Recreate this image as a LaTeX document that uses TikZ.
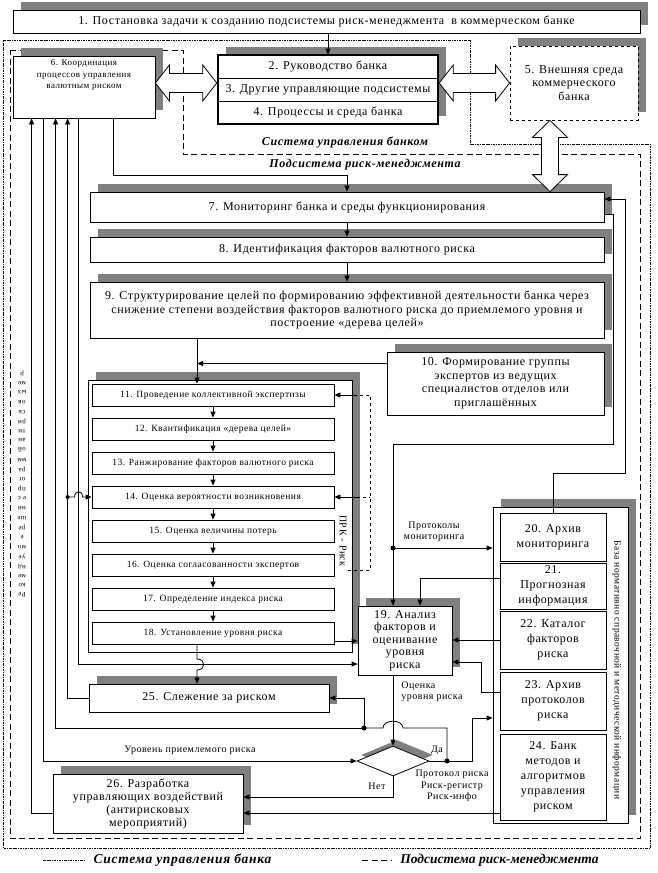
\documentclass[tikz,border=0pt]{standalone}
\usepackage{fontspec}
\setmainfont{Liberation Serif}[LetterSpace=5]
\usetikzlibrary{arrows.meta,calc,shadows,shapes.geometric,positioning}

\definecolor{shadegray}{gray}{0.5}
\newcommand\fmain{\fontsize{12}{13.5}\selectfont}
\newcommand\fcell{\fontsize{12}{15}\selectfont}
\newcommand\fsmall{\fontsize{9.5}{11}\selectfont}
\newcommand\fsix{\fontsize{9}{11.5}\selectfont}
\newcommand\flabel{\fontsize{10}{11.5}\selectfont}
\newcommand\fsys{\fontsize{12}{14}\selectfont\bfseries\itshape}
\newcommand\fleg{\fontsize{13.5}{16}\selectfont\bfseries\itshape}
\newcommand\fvert{\fontsize{7}{8}\selectfont}
\newcommand\fbase{\fontsize{9.5}{11}\selectfont}

% hollow double arrows
\newcommand\hdblarrow[2]{\draw[fill=white] let \p1=(#1), \p2=(#2) in
  (\x1,\y1) -- (\x1+14pt,\y1+18pt) -- (\x1+14pt,\y1+9.5pt) -- (\x2-14pt,\y1+9.5pt)
  -- (\x2-14pt,\y1+18pt) -- (\x2,\y1) -- (\x2-14pt,\y1-18pt) -- (\x2-14pt,\y1-9.5pt)
  -- (\x1+14pt,\y1-9.5pt) -- (\x1+14pt,\y1-18pt) -- cycle;}
\newcommand\vdblarrow[2]{\draw[fill=white] let \p1=(#1), \p2=(#2) in
  (\x1,\y1) -- (\x1+17.5pt,\y1-17pt) -- (\x1+8.5pt,\y1-17pt) -- (\x1+8.5pt,\y2+17pt)
  -- (\x1+17.5pt,\y2+17pt) -- (\x1,\y2) -- (\x1-17.5pt,\y2+17pt) -- (\x1-8.5pt,\y2+17pt)
  -- (\x1-8.5pt,\y1-17pt) -- (\x1-17.5pt,\y1-17pt) -- cycle;}

\tikzset{
  box/.style={draw, fill=white, inner sep=1pt, align=center, font=\fmain},
  shbox/.style={box, drop shadow={shadow xshift=8pt, shadow yshift=8pt, fill=shadegray, opacity=1}},
  smallbox/.style={box, font=\fsmall, minimum width=242pt, minimum height=22pt},
  cell/.style={box, font=\fcell, minimum width=106pt},
  arr/.style={-{Triangle[length=6pt,width=5pt]}},
  lbl/.style={font=\flabel, inner sep=0pt, align=left},
  sysline/.style={line width=0.6pt, dash pattern=on 2.5pt off 1pt on 0.8pt off 1pt},
  subline/.style={dash pattern=on 6pt off 3.5pt},
}

\begin{document}
\begin{tikzpicture}[x=1pt, y=-1pt, line width=0.8pt]
  \useasboundingbox (0,0) rectangle (658,873);
  \fill[white] (0,0) rectangle (658,873);

  %%%%% borders %%%%%
  \draw[sysline] (3,40) -- (470,40) -- (470,144) -- (650,144) -- (650,848) -- (3,848) -- cycle;
  \draw[subline] (10,50) -- (183,50) -- (183,154) -- (640,154) -- (640,838) -- (10,838) -- cycle;
  \node[font=\fsys] (lsys) at (345,142) {Система управления банком};
  \node[font=\fsys] (lsub) at (365,165) {Подсистема риск-менеджмента};

  %%%%% top %%%%%
  \node[shbox, minimum width=627pt, minimum height=23pt] (b1) at (326.5,21.5)
    {1. Постановка задачи к созданию подсистемы риск-менеджмента\ \ в коммерческом банке};

  \node[shbox, minimum width=142pt, minimum height=62pt] (b6) at (84,87) {};
  \node[font=\fsix, align=center, anchor=north, inner sep=0pt] (b6txt) at ([yshift=-4pt]b6.north)
    {6. Координация\\процессов управления\\валютным риском};

  \node[draw, fill=white, line width=2.5pt, minimum width=220pt, minimum height=69pt,
    drop shadow={shadow xshift=8pt, shadow yshift=8pt, fill=shadegray, opacity=1}] (bctl) at (328,89.5) {};
  \node[font=\fmain, minimum width=220pt, minimum height=23pt] (b2) at (328,66.5) {2. Руководство банка};
  \node[font=\fmain, minimum width=220pt, minimum height=23pt] (b3) at (328,89.5) {3. Другие управляющие подсистемы};
  \node[font=\fmain, minimum width=220pt, minimum height=23pt] (b4) at (328,112.5) {4. Процессы и среда банка};
  \draw (b2.south west) -- (b2.south east);
  \draw (b3.south west) -- (b3.south east);

  \node[shbox, dashed, minimum width=128pt, minimum height=74pt] (b5) at (574,83)
    {5. Внешняя среда\\коммерческого\\банка};

  \draw[arr] (b1.south -| b2.north) -- (b2.north);
  \coordinate (ha) at ($(b6.east)+(0,-4)$);
  \hdblarrow{ha}{ha -| bctl.west}
  \hdblarrow{b5.west -| bctl.east}{b5.west}

  %%%%% main column %%%%%
  \node[shbox, minimum width=514pt, minimum height=30pt] (b7) at (347,207) {7. Мониторинг банка и среды функционирования};
  \node[shbox, minimum width=514pt, minimum height=25pt] (b8) at (347,249.5) {8. Идентификация факторов валютного риска};
  \node[shbox, minimum width=514pt, minimum height=56pt] (b9) at (347,310)
    {9. Структурирование целей по формированию эффективной деятельности банка через\\
     снижение степени воздействия факторов валютного риска до приемлемого уровня и\\
     построение «дерева целей»};
  \node[shbox, minimum width=217pt, minimum height=63pt] (b10) at (495.5,383.5)
    {10. Формирование группы\\экспертов из ведущих\\специалистов отделов или\\приглашённых};

  \coordinate (va) at ($(b5.south)+(-24,0)$);
  \vdblarrow{va}{va |- b7.north}

  \coordinate (o6) at ([xshift=29pt]b6.south);
  \coordinate (m7) at ([yshift=16pt]b7.north);
  \draw[arr] (o6) |- (m7) -- (b7.north);
  \draw[arr] (b7.south) -- (b8.north);
  \draw[arr] (b8.south) -- (b9.north);

  %%%%% expert block %%%%%
  \node[shbox, minimum width=264pt, minimum height=272pt] (cont) at (220,516) {};
  \node[smallbox] (b11) at (213,395) {11. Проведение коллективной экспертизы};
  \node[smallbox] (b12) at (213,429) {12. Квантификация «дерева целей»};
  \node[smallbox] (b13) at (213,463) {13. Ранжирование факторов валютного риска};
  \node[smallbox] (b14) at (213,497) {14. Оценка вероятности возникновения};
  \node[smallbox] (b15) at (213,531) {15. Оценка величины потерь};
  \node[smallbox] (b16) at (213,565) {16. Оценка согласованности экспертов};
  \node[smallbox] (b17) at (213,599) {17. Определение индекса риска};
  \node[smallbox] (b18) at (213,633) {18. Установление уровня риска};
  \node[font=\flabel, rotate=-90, inner sep=0pt] (prk) at (343,541) {ПРК - Риск};
  \foreach \a/\b in {11/12,12/13,13/14,14/15,15/16,16/17,17/18}
    \draw[arr] (b\a.south) -- (b\b.north);

  \coordinate (in11) at ([xshift=-16pt]b11.north);
  \draw[arr] (in11 |- b9.south) -- (in11);
  \coordinate (o10) at ([yshift=20pt]b10.west);
  \draw[arr] (o10) -- (o10 -| in11);

  \coordinate (bk1) at ([xshift=23pt]b11.east);
  \coordinate (bk4) at ([xshift=23pt]b14.east);
  \coordinate (bk6) at ([xshift=14pt,yshift=-5pt]b16.east);
  \draw[dashed] (bk6) -- ++(22,0) |- (bk1);
  \draw[dashed] (bk4) -- ++(13,0);
  \draw[arr] (bk1) -- (b11.east);
  \draw[arr] (bk4) -- (b14.east);

  %%%%% analysis %%%%%
  \node[shbox, minimum width=94pt, minimum height=69pt, inner sep=0pt,
    font=\fontsize{12}{12.5}\selectfont] (b19) at (405,640.5)
    {19. Анализ\\факторов и\\оценивание\\уровня\\риска};
  \node[shbox, minimum width=240pt, minimum height=28pt] (b25) at (209,698) {25. Слежение за риском};
  \node[shbox, minimum width=190pt, minimum height=59pt, font=\fontsize{12}{13}\selectfont] (b26) at (148,803.5)
    {26. Разработка\\управляющих воздействий\\(антирисковых\\мероприятий)};
  \node[diamond, draw, fill=white, minimum width=72pt, minimum height=30pt, inner sep=0pt,
    drop shadow={shadow xshift=4pt, shadow yshift=6pt, fill=shadegray, opacity=1}] (dec) at (393,761) {};

  %%%%% reference base %%%%%
  \node[shbox, minimum width=135pt, minimum height=316pt] (base) at (560.5,665) {};
  \node[font=\fbase, rotate=-90, inner sep=0pt] (lbase) at (617,670)
    {База нормативно справочной и методической информации};
  \node[cell, minimum height=48pt] (b20) at (553,537) {20. Архив\\мониторинга};
  \node[cell, minimum height=46pt] (b21) at (553,586) {21.\\Прогнозная\\информация};
  \node[cell, minimum height=58pt] (b22) at (553,640) {22. Каталог\\факторов\\риска};
  \node[cell, minimum height=58pt] (b23) at (553,701) {23. Архив\\протоколов\\риска};
  \node[cell, minimum height=86pt] (b24) at (553,777) {24. Банк\\методов и\\алгоритмов\\управления\\риском};

  %%%%% right connectors %%%%%
  \coordinate (o7) at ([yshift=-7pt]b7.east);
  \coordinate (i7) at ([yshift=8pt]b7.east);
  \coordinate (laneA) at (613,444);
  \coordinate (lvA) at (393,444);
  \draw[arr] (o7) -| (laneA) -- (lvA) -- (lvA |- b19.north);
  \coordinate (dmon) at (393,548);
  \fill (dmon) circle (2.5pt);
  \draw[arr] (dmon) -- (dmon -| base.west);
  \node[lbl, align=center] (lmon) at (434,532) {Протоколы\\мониторинга};
  \coordinate (laneB) at (625,473);
  \draw[arr] (b20.north) |- (laneB) |- (i7);

  \coordinate (o21) at ([yshift=8pt]b21.west);
  \coordinate (i19a) at ([xshift=15pt]b19.north);
  \draw[arr] (o21) -| (i19a);
  \draw[arr] (b22.west) -- (b22.west -| b19.east);
  \coordinate (o23) at ([yshift=9pt]b23.west);
  \coordinate (i19b) at ([yshift=-21.5pt]b19.east);
  \draw[arr] (o23) -- ++(-18,0) |- (i19b);
  \coordinate (o24) at ([yshift=-36pt]b24.west);
  \draw[arr] (o24) -- (o24 -| b26.east);

  %%%%% decision %%%%%
  \draw[arr] (b19.south -| lvA) -- (dec.north);
  \node[lbl, anchor=north west] (lrisk) at (401,681) {Оценка\\уровня риска};
  \coordinate (dyes) at (447,761);
  \draw (dec.east) -- (dyes);
  \fill (dyes) circle (2.5pt);
  \node[lbl] (lyes) at (437,750) {Да};
  \coordinate (d2) at (364,728);
  \coordinate (hopR) at (403,728);
  \coordinate (hopL) at (383,728);
  \draw (dyes) |- (hopR) .. controls +(0,-9) and +(0,-9) .. (hopL) -- (d2);
  \fill (d2) circle (2.5pt);
  \draw[arr] (d2) |- (b25.east);
  \coordinate (r23) at (472,718);
  \draw[arr] (dyes) -| (r23) -- (r23 -| base.west);
  \node[lbl, align=center] (lprot) at (452,786) {Протокол риска\\Риск-регистр\\Риск-инфо};
  \coordinate (i26) at ([yshift=6.5pt]b26.east);
  \draw[arr] (dec.south) |- (i26);
  \node[lbl] (lno) at (377,786) {Нет};

  %%%%% left lanes %%%%%
  \coordinate (v1) at ([xshift=19pt]b6.south west);
  \coordinate (v2) at ([xshift=31pt]b6.south west);
  \coordinate (v3) at ([xshift=43pt]b6.south west);
  \coordinate (v4) at ([xshift=55pt]b6.south west);
  \coordinate (v5) at ([xshift=66pt]b6.south west);
  \coordinate (o26) at ([yshift=-10pt]b26.west);
  \draw[arr] (o26) -| (v1);
  \draw[arr] (v2) |- (dec.west);
  \node[lbl] (llev) at (190,750) {Уровень приемлемого риска};
  \draw[arr] (d2) -| (v3);
  \draw[arr] (b25.west) -| (v4);
  \coordinate (i19c) at ([yshift=-23.5pt]b19.west);
  \draw[arr] (v5) |- (i19c);
  \coordinate (o18) at ([yshift=-8pt]b18.east);
  \draw[arr] (o18) -- (o18 -| b19.west);

  \coordinate (d14) at (v4 |- b14.west);
  \fill (d14) circle (2pt);
  \draw[arr] (d14) -- ++(7,0) .. controls +(0,-7) and +(0,-7) .. ++(8,0) -- (b14.west);

  \coordinate (s18) at (b18.south -| in11);
  \coordinate (hopT) at (197,659);
  \coordinate (hopB) at (197,670);
  \draw[arr] (s18) -- (hopT) .. controls +(9,0) and +(9,0) .. (hopB) -- (hopB |- b25.north);

  % vertical note, letter pairs turned over
  \foreach \t [count=\i] in {Ре,ко,ме,нд,уе,мо,е,ре,ше,ни,е с,пр,ог,ра,мм,ой,ан,ти,ри,ск,ов,ых,ме,р}
    \node[font=\fvert, rotate=180, inner sep=0pt] at (22,{595-(\i-1)*9.65}) {\t};

  %%%%% legend %%%%%
  \node[font=\fleg, anchor=west] (legsys) at (90,860) {Система управления банка};
  \draw[sysline] ([xshift=-47pt]legsys.west) -- ([xshift=-6pt]legsys.west);
  \node[font=\fleg, anchor=west, inner sep=0pt] (legsub) at (400,860) {\addfontfeature{LetterSpace=0}Подсистема риск-менеджмента};
  \draw[subline] ([xshift=-38pt]legsub.west) -- ([xshift=-8pt]legsub.west);
\end{tikzpicture}
\end{document}
